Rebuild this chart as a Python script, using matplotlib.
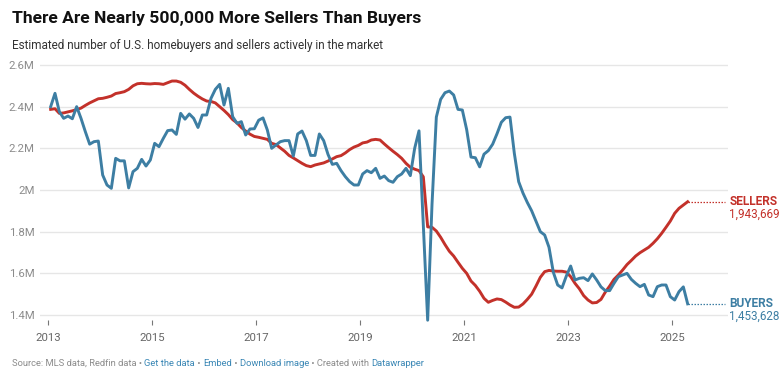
import numpy as np
import pandas as pd
import matplotlib
matplotlib.use("Agg")
import matplotlib.pyplot as plt
import matplotlib.transforms as mtransforms

plt.rcParams['font.family'] = ['Roboto', 'DejaVu Sans']

# ---------------- data (millions) ----------------
buyers = [
    2.40, 2.464, 2.376, 2.344, 2.355, 2.342, 2.40, 2.344, 2.28, 2.22, 2.232, 2.235,
    2.072, 2.024, 2.008, 2.152, 2.14, 2.14, 2.01, 2.088, 2.104, 2.147, 2.115, 2.144,
    2.224, 2.208, 2.248, 2.285, 2.288, 2.267, 2.368, 2.34, 2.365, 2.344, 2.30, 2.36,
    2.36, 2.44, 2.483, 2.507, 2.408, 2.488, 2.352, 2.32, 2.328, 2.264, 2.293, 2.294,
    2.335, 2.346, 2.288, 2.20, 2.216, 2.232, 2.237, 2.237, 2.163, 2.269, 2.283, 2.237,
    2.166, 2.166, 2.269, 2.237, 2.171, 2.123, 2.128, 2.093, 2.064, 2.04, 2.024, 2.024,
    2.077, 2.093, 2.083, 2.104, 2.056, 2.067, 2.045, 2.037, 2.064, 2.077, 2.104, 2.069,
    2.20, 2.284, 1.83, 1.375, 1.93, 2.35, 2.435, 2.467, 2.475, 2.456, 2.387, 2.384,
    2.29, 2.158, 2.155, 2.111, 2.172, 2.189, 2.22, 2.27, 2.325, 2.347, 2.35, 2.176,
    2.04, 1.985, 1.94, 1.90, 1.85, 1.80, 1.784, 1.725, 1.605, 1.544, 1.53, 1.587,
    1.635, 1.568, 1.576, 1.579, 1.565, 1.597, 1.568, 1.535, 1.517, 1.517, 1.552, 1.584,
    1.592, 1.60, 1.571, 1.552, 1.536, 1.547, 1.496, 1.488, 1.536, 1.544, 1.544, 1.488,
    1.472, 1.512, 1.535, 1.453628,
]
sellers = [
    2.387, 2.39, 2.368, 2.37, 2.375, 2.38, 2.386, 2.393, 2.406, 2.418, 2.428, 2.438,
    2.44, 2.445, 2.451, 2.463, 2.467, 2.472, 2.483, 2.50, 2.51, 2.512, 2.51, 2.509,
    2.511, 2.51, 2.507, 2.515, 2.523, 2.523, 2.517, 2.503, 2.483, 2.465, 2.45, 2.437,
    2.427, 2.425, 2.418, 2.40, 2.382, 2.362, 2.338, 2.322, 2.30, 2.283, 2.268, 2.257,
    2.253, 2.248, 2.243, 2.224, 2.218, 2.202, 2.186, 2.166, 2.154, 2.141, 2.128, 2.117,
    2.112, 2.12, 2.125, 2.13, 2.139, 2.149, 2.16, 2.165, 2.178, 2.194, 2.206, 2.214,
    2.226, 2.23, 2.24, 2.243, 2.24, 2.221, 2.203, 2.186, 2.17, 2.152, 2.128, 2.109,
    2.10, 2.093, 2.063, 1.823, 1.821, 1.803, 1.773, 1.738, 1.706, 1.683, 1.653, 1.624,
    1.60, 1.563, 1.542, 1.514, 1.48, 1.461, 1.47, 1.477, 1.474, 1.462, 1.448, 1.437,
    1.438, 1.453, 1.475, 1.50, 1.539, 1.581, 1.608, 1.614, 1.611, 1.61, 1.61, 1.606,
    1.584, 1.552, 1.526, 1.493, 1.472, 1.458, 1.46, 1.475, 1.51, 1.539, 1.571, 1.592,
    1.616, 1.642, 1.662, 1.683, 1.699, 1.712, 1.725, 1.744, 1.766, 1.792, 1.821, 1.851,
    1.888, 1.912, 1.928, 1.943669,
]
months = pd.date_range("2013-01-01", periods=len(buyers), freq="MS")
t = np.array([d.year + (d.month - 0.5) / 12 for d in months])

y_ticks = [1.4, 1.6, 1.8, 2.0, 2.2, 2.4, 2.6]
y_labels = ["1.4M", "1.6M", "1.8M", "2M", "2.2M", "2.4M", "2.6M"]
x_ticks = [2013, 2015, 2017, 2019, 2021, 2023, 2025]
x_labels = [str(v) for v in x_ticks]

title = "There Are Nearly 500,000 More Sellers Than Buyers"
subtitle = "Estimated number of U.S. homebuyers and sellers actively in the market"
footer = [("Source: MLS data, Redfin data • ", "gray"), ("Get the data", "link"),
          (" • ", "gray"), ("Embed", "link"), (" • ", "gray"),
          ("Download image", "link"), (" • Created with ", "gray"),
          ("Datawrapper", "link")]

BLUE = "#3d7ea3"
RED = "#c3312a"
GRAY = "#8c8c8c"
LINK = "#3a87b5"

W, H = 780, 375
fig = plt.figure(figsize=(W / 100, H / 100), dpi=100)
fig.patch.set_facecolor("white")

ylo, yhi = 1.375, 2.62
px_per_unit = 250 / 1.2
top_px = 65 - (yhi - 2.6) * px_per_unit
bot_px = 315 + (1.4 - ylo) * px_per_unit
ax = fig.add_axes([40 / W, 1 - bot_px / H, (728 - 40) / W, (bot_px - top_px) / H])
xlo = 2013 + (40 - 48.5) / 52
xhi = 2013 + (728 - 48.5) / 52
ax.set_xlim(xlo, xhi)
ax.set_ylim(ylo, yhi)

for s in ax.spines.values():
    s.set_visible(False)

ax.set_yticks(y_ticks)
ax.set_yticklabels(y_labels)
ax.tick_params(axis="y", length=0, pad=4, labelsize=8.2, labelcolor=GRAY)
for yv in y_ticks:
    ax.axhline(yv, color="#e6e6e6", lw=1.0, zorder=0)

ax.set_xticks(x_ticks)
ax.set_xticklabels(x_labels)
ax.tick_params(axis="x", length=3.5, width=0.8, color="#777777", pad=6,
               labelsize=8.2, labelcolor="#666666", direction="out")

ax.plot(t, sellers, color=RED, lw=2.1, solid_joinstyle="round", zorder=3, clip_on=False)
ax.plot(t, buyers, color=BLUE, lw=2.1, solid_joinstyle="round", zorder=4, clip_on=False)

# connectors and end labels
xend = 2013 + (725 - 48.5) / 52
ax.plot([t[-1], xend], [sellers[-1], sellers[-1]], color=RED, lw=0.9,
        ls=(0, (1.2, 1.2)), clip_on=False)
ax.plot([t[-1], xend], [buyers[-1], buyers[-1]], color=BLUE, lw=0.9,
        ls=(0, (1.2, 1.2)), clip_on=False)

bt = mtransforms.blended_transform_factory(ax.transAxes, ax.transData)
xl = (729.5 - 40) / (728 - 40)
for val, name, col in [(sellers[-1], "SELLERS", RED), (buyers[-1], "BUYERS", BLUE)]:
    ax.text(xl, val, name, transform=bt, color=col, fontsize=8.6,
            fontweight="bold", va="center", ha="left")
    ax.annotate(f"{int(round(val * 1e6)):,}", xy=(xl, val), xycoords=bt,
                xytext=(0, -9.2), textcoords="offset points", color=col,
                fontsize=8.4, va="center", ha="left")

# titles
fig.text(12 / W, 1 - 18 / H, title, fontsize=12.6, fontweight="bold", color="#111111",
         va="center", ha="left")
fig.text(12 / W, 1 - 45 / H, subtitle, fontsize=8.5, color="#333333",
         va="center", ha="left")

# footer: chained text pieces
colmap = {"gray": GRAY, "link": LINK}
anchor = fig.text(12 / W, 1 - 363 / H, footer[0][0], fontsize=6.75,
                  color=colmap[footer[0][1]], va="center", ha="left")
for txt, c in footer[1:]:
    anchor = fig.add_artist(plt.Annotation(txt, xy=(1, 0.5), xycoords=anchor,
                                           va="center", ha="left", fontsize=6.75,
                                           color=colmap[c]))

fig.savefig("out.png", dpi=100, facecolor="white")
